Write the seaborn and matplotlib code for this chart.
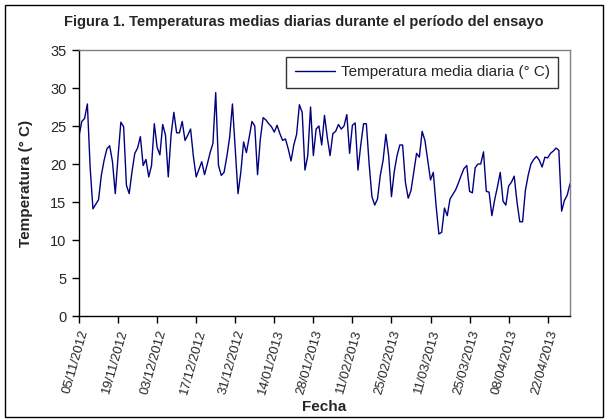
import matplotlib
matplotlib.use("Agg")
import matplotlib.pyplot as plt
from matplotlib.patches import Rectangle
import pandas as pd
import seaborn as sns

# Daily mean temperatures (°C), one list per month
nov_2012 = [23.7, 25.6, 26.0, 27.9, 19.5, 14.1, 14.7, 15.3, 18.5, 20.5, 22.0, 22.4, 20.3,
            16.1, 21.0, 25.5, 24.9, 17.2, 16.1, 19.0, 21.4, 22.1, 23.6, 19.8, 20.6, 18.3]
dec_2012 = [19.8, 25.3, 22.2, 21.2, 25.2, 23.8, 18.3, 23.8, 26.8, 24.1, 24.1, 25.6, 23.1,
            23.8, 24.6, 21.0, 18.3, 19.3, 20.3, 18.6, 20.0, 21.5, 22.7, 29.4, 19.8, 18.5,
            18.9, 21.0, 23.5, 27.9, 22.0]
jan_2013 = [16.1, 18.9, 22.9, 21.5, 23.5, 25.6, 25.0, 18.6, 23.3, 26.1, 25.8, 25.3, 24.9,
            24.2, 25.1, 24.0, 23.1, 23.3, 22.0, 20.4, 22.5, 23.9, 27.8, 26.8, 19.2, 21.1,
            27.5, 21.1, 24.6, 25.0, 22.5]
feb_2013 = [26.4, 23.5, 21.1, 24.0, 24.3, 25.2, 24.6, 25.0, 26.5, 21.4, 25.1, 25.4, 19.2,
            22.5, 25.3, 25.3, 20.0, 15.7, 14.6, 15.4, 18.5, 20.5, 23.9, 21.1, 15.7, 19.0,
            21.1, 22.5]
mar_2013 = [22.5, 17.6, 15.5, 16.5, 19.0, 21.4, 20.9, 24.3, 23.1, 20.5, 17.9, 18.9, 14.5,
            10.8, 11.0, 14.2, 13.2, 15.4, 16.0, 16.6, 17.5, 18.5, 19.4, 19.8, 16.4, 16.2,
            19.5, 20.0, 20.0, 21.6, 16.4]
apr_2013 = [16.3, 13.2, 15.3, 17.0, 18.9, 15.1, 14.6, 17.1, 17.6, 18.4, 15.0, 12.4, 12.4,
            16.5, 18.5, 20.0, 20.6, 21.0, 20.5, 19.6, 20.9, 20.8, 21.4, 21.7, 22.1, 21.8,
            13.8, 15.2, 15.9, 17.4]

start_date = "2012-11-05"
tick_labels = ["05/11/2012", "19/11/2012", "03/12/2012", "17/12/2012", "31/12/2012",
               "14/01/2013", "28/01/2013", "11/02/2013", "25/02/2013", "11/03/2013",
               "25/03/2013", "08/04/2013", "22/04/2013"]
y_ticks = [0, 5, 10, 15, 20, 25, 30, 35]

series_label = "Temperatura media diaria (° C)"
title = "Figura 1. Temperaturas medias diarias durante el período del ensayo"

temps = nov_2012 + dec_2012 + jan_2013 + feb_2013 + mar_2013 + apr_2013
dates = pd.date_range(start_date, periods=len(temps), freq="D")
df = pd.DataFrame({"Fecha": dates, "Temperatura": temps})

sns.set_theme(style="white")
plt.rcParams["font.family"] = ["Liberation Sans", "DejaVu Sans"]

fig = plt.figure(figsize=(6.08, 4.2), dpi=100)
ax = fig.add_axes([79 / 608, 1 - 316 / 420, 491 / 608, 266 / 420])

sns.lineplot(data=df, x="Fecha", y="Temperatura", ax=ax, color="#000080",
             linewidth=1.0, label=series_label)

ax.set_xlim(dates[0], dates[-1])
ax.set_ylim(0, 35)
ax.set_yticks(y_ticks)
ax.set_yticklabels([str(v) for v in y_ticks], fontsize=10.5)
tick_dates = pd.to_datetime(tick_labels, format="%d/%m/%Y")
ax.set_xticks(tick_dates)
ax.set_xticklabels(tick_labels, rotation=74, ha="right", va="top",
                   rotation_mode="anchor", fontsize=9.5)

ax.tick_params(axis="both", direction="out", length=5, width=1, color="black",
               bottom=True, left=True)
ax.tick_params(axis="x", pad=4)
ax.tick_params(axis="y", pad=4)
for side in ("left", "bottom"):
    ax.spines[side].set_color("black")
    ax.spines[side].set_linewidth(1.0)
for side in ("top", "right"):
    ax.spines[side].set_color("#808080")
    ax.spines[side].set_linewidth(1.0)
ax.grid(False)

ax.set_xlabel("Fecha", fontsize=11, fontweight="bold", va="center")
ax.xaxis.set_label_coords(0.5, (316 - 407) / 266)
ax.set_ylabel("Temperatura (° C)", fontsize=11, fontweight="bold", labelpad=12)

leg = ax.legend(loc="upper right", bbox_to_anchor=(0.9756, 0.9737), fontsize=11,
                frameon=True, fancybox=False, handlelength=2.6, borderpad=0.55,
                handletextpad=0.4, borderaxespad=0.0)
leg.get_frame().set_edgecolor("black")
leg.get_frame().set_linewidth(1.0)

fig.text(0.5, 1 - 22 / 420, title, ha="center", va="center", fontsize=10.5,
         fontweight="bold")

fig.patches.append(Rectangle((5 / 608, 3 / 420), 598 / 608, 412 / 420,
                             transform=fig.transFigure, fill=False,
                             edgecolor="black", linewidth=1.0))

fig.savefig("out.png", dpi=100, facecolor="white")
